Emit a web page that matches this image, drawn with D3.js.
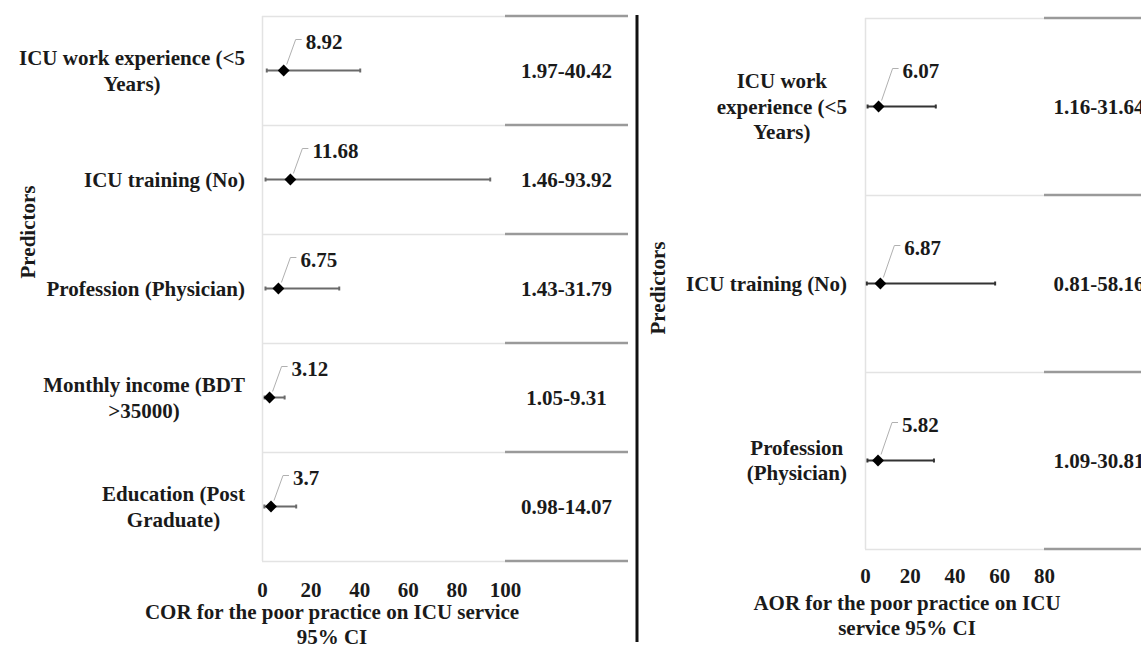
<!DOCTYPE html>
<html>
<head>
<meta charset="utf-8">
<script src="https://cdn.jsdelivr.net/npm/d3@7"></script>
<style>
  body { margin: 0; background: #fff; }
  text { font-family: "Liberation Serif", "Times New Roman", serif; font-weight: bold; font-size: 21px; fill: #1a1a1a; }
</style>
</head>
<body>
<script>
// COR panel (left)
const corCategories = ["ICU work experience (<5 Years)", "ICU training (No)", "Profession (Physician)", "Monthly income (BDT >35000)", "Education (Post Graduate)"];
const corValues = [8.92, 11.68, 6.75, 3.12, 3.7];
const corLower = [1.97, 1.46, 1.43, 1.05, 0.98];
const corUpper = [40.42, 93.92, 31.79, 9.31, 14.07];
const corTicks = [0, 20, 40, 60, 80, 100];

// AOR panel (right)
const aorCategories = ["ICU work experience (<5 Years)", "ICU training (No)", "Profession (Physician)"];
const aorValues = [6.07, 6.87, 5.82];
const aorLower = [1.16, 0.81, 1.09];
const aorUpper = [31.64, 58.16, 30.81];
const aorTicks = [0, 20, 40, 60, 80];

const svg = d3.select("body").append("svg").attr("width", 1141).attr("height", 648);

// measure text width with a throwaway node
const measure = svg.append("text").attr("x", -1000).attr("y", -1000);
function textWidth(s) {
  measure.text(s);
  return measure.node().getComputedTextLength();
}
function wrap(s, maxW) {
  const words = s.split(" ");
  const lines = [];
  let cur = words[0];
  for (let i = 1; i < words.length; i++) {
    const t = cur + " " + words[i];
    if (textWidth(t) > maxW) { lines.push(cur); cur = words[i]; }
    else cur = t;
  }
  lines.push(cur);
  return lines;
}

function drawPanel(p) {
  const g = svg.append("g");
  const x = d3.scaleLinear().domain([0, d3.max(p.ticks)]).range([p.left, p.right]);
  const y = d3.scaleBand().domain(p.cats).range([p.top, p.bottom]);
  const rows = p.cats.map((c, i) => ({ cat: c, v: p.vals[i], lo: p.lo[i], hi: p.hi[i] }));

  // light grid: row separators + left axis line
  const edges = p.cats.map(c => y(c)).concat([p.bottom]);
  g.selectAll(".grid").data(edges).enter().append("line")
    .attr("x1", p.left).attr("x2", p.right)
    .attr("y1", d => d + 0.5).attr("y2", d => d + 0.5)
    .attr("stroke", "#e3e3e3").attr("stroke-width", 1.5);
  g.append("line")
    .attr("x1", p.left + 0.5).attr("x2", p.left + 0.5)
    .attr("y1", p.top).attr("y2", p.bottom)
    .attr("stroke", "#e3e3e3").attr("stroke-width", 1.5);

  // table lines on the right
  g.selectAll(".tline").data(edges).enter().append("line")
    .attr("x1", p.right).attr("x2", p.tableRight)
    .attr("y1", d => d).attr("y2", d => d)
    .attr("stroke", "#9a9a9a").attr("stroke-width", 2.5);

  // table CI text
  g.selectAll(".ci").data(rows).enter().append("text")
    .attr("x", (p.right + p.tableRight) / 2)
    .attr("y", d => y(d.cat) + y.bandwidth() / 2)
    .attr("text-anchor", "middle").attr("dominant-baseline", "central")
    .text(d => d.lo.toFixed(2) + "-" + d.hi.toFixed(2));

  // category labels, wrapped and centred as a block
  rows.forEach(d => {
    const lines = wrap(d.cat, p.wrapW);
    const w = d3.max(lines, textWidth);
    const cx = p.labelRight - w / 2;
    const cy = y(d.cat) + y.bandwidth() / 2;
    lines.forEach((l, i) => {
      g.append("text")
        .attr("x", cx)
        .attr("y", cy + (i - (lines.length - 1) / 2) * p.lineH)
        .attr("text-anchor", "middle").attr("dominant-baseline", "central")
        .text(l);
    });
  });

  // whiskers
  const cy = d => y(d.cat) + y.bandwidth() / 2;
  g.selectAll(".whisk").data(rows).enter().append("line")
    .attr("x1", d => x(d.lo)).attr("x2", d => x(d.hi))
    .attr("y1", cy).attr("y2", cy)
    .attr("stroke", p.whiskerColor).attr("stroke-width", 2);
  ["lo", "hi"].forEach(k => {
    g.selectAll(".cap-" + k).data(rows).enter().append("line")
      .attr("x1", d => x(d[k])).attr("x2", d => x(d[k]))
      .attr("y1", d => cy(d) - 2).attr("y2", d => cy(d) + 2)
      .attr("stroke", p.whiskerColor).attr("stroke-width", 2);
  });

  // leader lines + value labels
  g.selectAll(".leader").data(rows).enter().append("path")
    .attr("d", d => {
      const px = x(d.v), py = cy(d);
      const lx = px + p.labelDx, ly = py + p.labelDy;
      return `M${px + 3},${py - 6}L${lx - 10},${ly - 2}L${lx - 4},${ly - 2}`;
    })
    .attr("fill", "none").attr("stroke", "#b0b0b0").attr("stroke-width", 1);
  g.selectAll(".vlab").data(rows).enter().append("text")
    .attr("x", d => x(d.v) + p.labelDx)
    .attr("y", d => cy(d) + p.labelDy)
    .attr("dominant-baseline", "central")
    .text(d => String(d.v));

  // diamond markers
  g.selectAll(".pt").data(rows).enter().append("path")
    .attr("d", d3.symbol(d3.symbolDiamond2, 90))
    .attr("transform", d => `translate(${x(d.v)},${cy(d)})`)
    .attr("fill", "#000");

  // x axis
  const ax = g.append("g").attr("transform", `translate(0,${p.bottom})`)
    .call(d3.axisBottom(x).tickValues(p.ticks).tickSize(0).tickPadding(p.tickPad));
  ax.select(".domain").remove();
  ax.attr("font-family", null).attr("font-size", null);
  ax.selectAll("text").attr("fill", null);

  // x title
  const xl = wrap(p.xTitle, p.xTitleW);
  xl.forEach((l, i) => {
    g.append("text").attr("x", p.xTitleX).attr("y", p.xTitleY + i * p.xTitleLH)
      .attr("text-anchor", "middle").attr("dominant-baseline", "central").text(l);
  });

  // y title
  g.append("text")
    .attr("transform", `translate(${p.yTitleX},${p.yTitleY}) rotate(-90)`)
    .attr("text-anchor", "middle").attr("dominant-baseline", "central")
    .text("Predictors");
}

drawPanel({
  cats: corCategories, vals: corValues, lo: corLower, hi: corUpper, ticks: corTicks,
  left: 262, right: 505, top: 16, bottom: 561, tableRight: 628,
  labelRight: 245, wrapW: 234, lineH: 26,
  whiskerColor: "#6a6a6a", labelDx: 22, labelDy: -29, tickPad: 21,
  xTitle: "COR for the poor practice on ICU service 95% CI", xTitleW: 400,
  xTitleX: 332, xTitleY: 612, xTitleLH: 25,
  yTitleX: 28, yTitleY: 232
});

drawPanel({
  cats: aorCategories, vals: aorValues, lo: aorLower, hi: aorUpper, ticks: aorTicks,
  left: 865, right: 1044, top: 18, bottom: 549, tableRight: 1154,
  labelRight: 847, wrapW: 180, lineH: 25.5,
  whiskerColor: "#333", labelDx: 24, labelDy: -36, tickPad: 19,
  xTitle: "AOR for the poor practice on ICU service 95% CI", xTitleW: 330,
  xTitleX: 907, xTitleY: 603, xTitleLH: 25,
  yTitleX: 658, yTitleY: 288
});

// divider between the panels
svg.append("line")
  .attr("x1", 637).attr("x2", 637).attr("y1", 15).attr("y2", 642)
  .attr("stroke", "#111").attr("stroke-width", 3);

measure.remove();
</script>
</body>
</html>
